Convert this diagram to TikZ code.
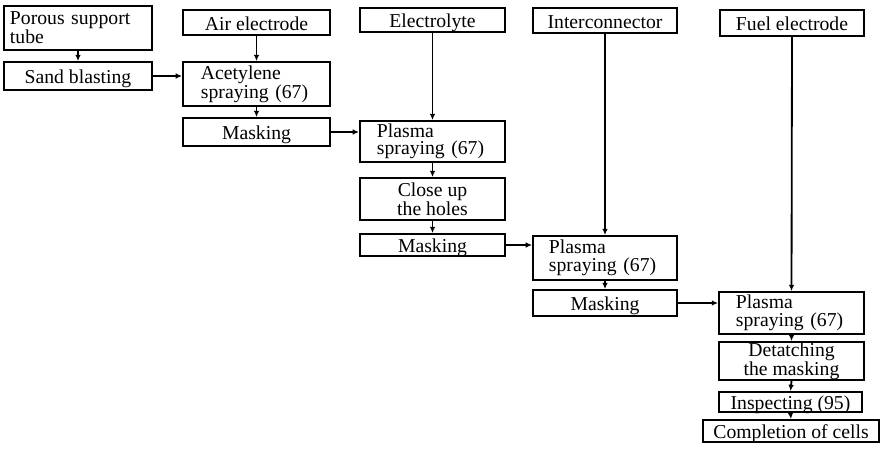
\documentclass[tikz,border=0pt]{standalone}
\usepackage{fontspec}
\setmainfont{Liberation Serif}
\usetikzlibrary{arrows.meta}

\tikzset{
  box/.style={draw, line width=1.3pt, inner xsep=2pt, inner ysep=0pt,
    font=\fontsize{14}{12.5}\selectfont},
  cbox/.style 2 args={box, minimum width=#1, minimum height=#2,
    text height=11.5pt, text depth=0.5pt},
  c2box/.style 2 args={box, minimum width=#1, minimum height=#2, align=center},
  lbox/.style n args={3}{box, text width=#1, inner xsep=#2, minimum height=#3, align=left},
  flow/.style={line width=1.3pt, -{Latex[length=4.5pt,width=4pt]}},
}

\begin{document}
\begin{tikzpicture}[x=0.025cm, y=-0.025cm]
    \useasboundingbox (0,0) rectangle (880,467);

    % support tube
    \node[lbox={3.4cm}{0.15cm}{1.1cm}] (tube) at (78,28) {Porous support\\tube};
    \node[cbox={3.7cm}{0.7cm}] (sand) at (78,76) {Sand blasting};

    % air electrode
    \node[cbox={3.675cm}{0.625cm}] (air) at (256.5,22.5) {Air electrode};
    \node[lbox={2.775cm}{0.45cm}{1.1cm}] (acet) at (256.5,84) {Acetylene\\spraying (67)};
    \node[cbox={3.675cm}{0.7cm}] (mask1) at (256.5,132) {Masking};

    % electrolyte
    \node[cbox={3.625cm}{0.6cm}] (elec) at (432.5,20) {Electrolyte};
    \node[lbox={2.775cm}{0.425cm}{1.025cm}] (plas1) at (432.5,141.5) {Plasma\\spraying (67)};
    \node[c2box={3.625cm}{1.05cm}] (close) at (432.5,199) {Close up\\the holes};
    \node[cbox={3.625cm}{0.55cm}] (mask2) at (432.5,245) {Masking};

    % interconnector
    \node[cbox={3.6cm}{0.625cm}] (inter) at (605,20.5) {Interconnector};
    \node[lbox={2.8cm}{0.4cm}{1.1cm}] (plas2) at (605,258) {Plasma\\spraying (67)};
    \node[cbox={3.6cm}{0.65cm}] (mask3) at (605,303) {Masking};

    % fuel electrode
    \node[cbox={3.6cm}{0.65cm}] (fuel) at (792,23) {Fuel electrode};
    \node[lbox={2.775cm}{0.425cm}{1.05cm}] (plas3) at (791.5,313) {Plasma\\spraying (67)};
    \node[c2box={3.625cm}{0.95cm}] (detach) at (791.5,361) {Detatching\\the masking};
    \node[cbox={3.575cm}{0.5cm}] (insp) at (790.5,402) {Inspecting (95)};
    \node[cbox={4.4cm}{0.55cm}] (compl) at (791,431) {Completion of cells};

    % vertical flow
    \draw[flow] (tube.south) -- (sand.north);
    \draw[flow] (air.south) -- (acet.north);
    \draw[flow] (acet.south) -- (mask1.north);
    \draw[flow] (elec.south) -- (plas1.north);
    \draw[flow] (plas1.south) -- (close.north);
    \draw[flow] (close.south) -- (mask2.north);
    \draw[flow] (inter.south) -- (plas2.north);
    \draw[flow] (plas2.south) -- (mask3.north);
    \draw[flow] (fuel.south) -- (plas3.north);
    \draw[flow] (plas3.south) -- (detach.north);
    \draw[flow] (detach.south) -- (insp.north);
    \draw[flow] (insp.south) -- (compl.north);

    % horizontal flow
    \draw[flow] (sand.east) -- (sand.east -| acet.west);
    \draw[flow] (mask1.east) -- (mask1.east -| plas1.west);
    \draw[flow] (mask2.east) -- (mask2.east -| plas2.west);
    \draw[flow] (mask3.east) -- (mask3.east -| plas3.west);
  \end{tikzpicture}
\end{document}
